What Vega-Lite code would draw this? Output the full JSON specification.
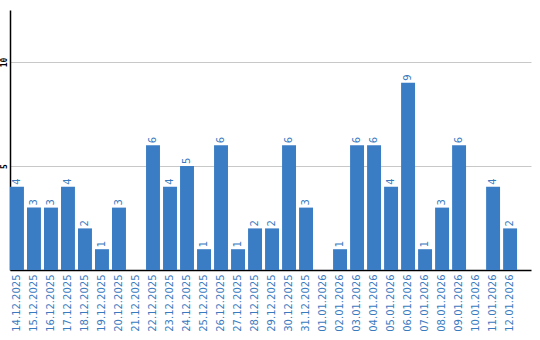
{
  "$schema": "https://vega.github.io/schema/vega-lite/v6.json",
  "width": 521,
  "height": 260,
  "autosize": {"type": "none"},
  "padding": {"left": 10, "top": 10, "right": 9, "bottom": 70},
  "background": "white",
  "config": {"view": {"stroke": null}},
  "data": {"values": [
    {"date": "14.12.2025", "count": 4},
    {"date": "15.12.2025", "count": 3},
    {"date": "16.12.2025", "count": 3},
    {"date": "17.12.2025", "count": 4},
    {"date": "18.12.2025", "count": 2},
    {"date": "19.12.2025", "count": 1},
    {"date": "20.12.2025", "count": 3},
    {"date": "21.12.2025", "count": 0},
    {"date": "22.12.2025", "count": 6},
    {"date": "23.12.2025", "count": 4},
    {"date": "24.12.2025", "count": 5},
    {"date": "25.12.2025", "count": 1},
    {"date": "26.12.2025", "count": 6},
    {"date": "27.12.2025", "count": 1},
    {"date": "28.12.2025", "count": 2},
    {"date": "29.12.2025", "count": 2},
    {"date": "30.12.2025", "count": 6},
    {"date": "31.12.2025", "count": 3},
    {"date": "01.01.2026", "count": 0},
    {"date": "02.01.2026", "count": 1},
    {"date": "03.01.2026", "count": 6},
    {"date": "04.01.2026", "count": 6},
    {"date": "05.01.2026", "count": 4},
    {"date": "06.01.2026", "count": 9},
    {"date": "07.01.2026", "count": 1},
    {"date": "08.01.2026", "count": 3},
    {"date": "09.01.2026", "count": 6},
    {"date": "10.01.2026", "count": 0},
    {"date": "11.01.2026", "count": 4},
    {"date": "12.01.2026", "count": 2}
  ]},
  "encoding": {
    "x": {
      "field": "date", "type": "nominal", "sort": null,
      "scale": {"paddingInner": 0.18, "paddingOuter": 0.41, "align": 0},
      "axis": {
        "title": null, "labelAngle": -90, "labelAlign": "right", "labelBaseline": "middle",
        "labelColor": "#3a7bbf", "labelFont": "DejaVu Sans", "labelFontSize": 10,
        "labelPadding": 4, "ticks": false, "domainColor": "#000000", "domainWidth": 1.5,
        "grid": false
      }
    },
    "y": {
      "field": "count", "type": "quantitative",
      "scale": {"domain": [0, 12.5], "nice": false},
      "axis": {
        "title": null, "values": [5, 10], "labelAngle": -90, "labelAlign": "center",
        "labelBaseline": "bottom", "labelColor": "#000000", "labelFont": "DejaVu Sans Mono",
        "labelFontSize": 8, "labelFontWeight": "bold", "labelPadding": 2, "ticks": false,
        "domainColor": "#000000", "domainWidth": 1.5, "grid": true, "gridColor": "#c8c8c8",
        "gridWidth": 1
      }
    }
  },
  "layer": [
    {"mark": {"type": "bar", "color": "#3b7dc4"}},
    {
      "transform": [{"filter": "datum.count > 0"}],
      "mark": {"type": "text", "angle": -90, "align": "left", "baseline": "middle", "dx": 2,
               "color": "#3a7bbf", "font": "DejaVu Sans", "fontSize": 10},
      "encoding": {"text": {"field": "count", "type": "quantitative"}}
    }
  ]
}
